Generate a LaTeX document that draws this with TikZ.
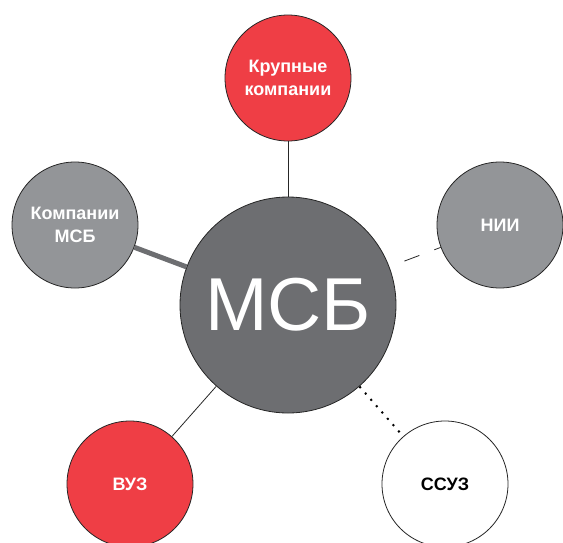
\documentclass[tikz,border=0pt]{standalone}
\usepackage{fontspec}
\setmainfont{Liberation Sans}
\definecolor{msbred}{HTML}{EF3E45}
\definecolor{msbdark}{HTML}{6D6E71}
\definecolor{msblight}{HTML}{939598}
\begin{document}
\begin{tikzpicture}[x=1pt,y=-1pt,
  bubble/.style={circle,draw=black!85,line width=0.8pt,inner sep=0pt,
    minimum size=126pt,align=center,font=\fontsize{18}{23}\selectfont\bfseries},
  hub/.style={circle,draw=black!85,line width=0.8pt,inner sep=0pt,
    minimum size=216pt,fill=msbdark,text=white,font=\fontsize{75}{80}\selectfont},
  thinlink/.style={draw=black!85,line width=0.8pt},
  thicklink/.style={draw=msbdark,line width=5pt},
  dashlink/.style={draw=black!85,line width=0.8pt,dash pattern=on 16pt off 16pt,dash phase=16pt},
  dotlink/.style={draw=black,line width=2pt,dash pattern=on 2pt off 6.4pt}]
\useasboundingbox (0,0) rectangle (563,542);

% central hub and the five partners around it
\node[hub] (msb) at (288,305) {МСБ};
\node[bubble,fill=msbred,text=white] (big) at (288,78) {Крупные\\компании};
\node[bubble,fill=msblight,text=white] (sme) at (75,225) {Компании\\МСБ};
\node[bubble,fill=msblight,text=white] (nii) at (500,225) {НИИ};
\node[bubble,fill=msbred,text=white] (vuz) at (130,484) {ВУЗ};
\node[bubble,fill=white,text=black] (ssuz) at (445,484) {ССУЗ};

% links of different strength
\draw[thinlink] (msb) -- (big);
\draw[thicklink] (msb) -- (sme);
\draw[dashlink] (msb) -- (nii);
\draw[thinlink] (msb) -- (vuz);
\draw[dotlink] (msb) -- (ssuz);
\end{tikzpicture}
\end{document}
